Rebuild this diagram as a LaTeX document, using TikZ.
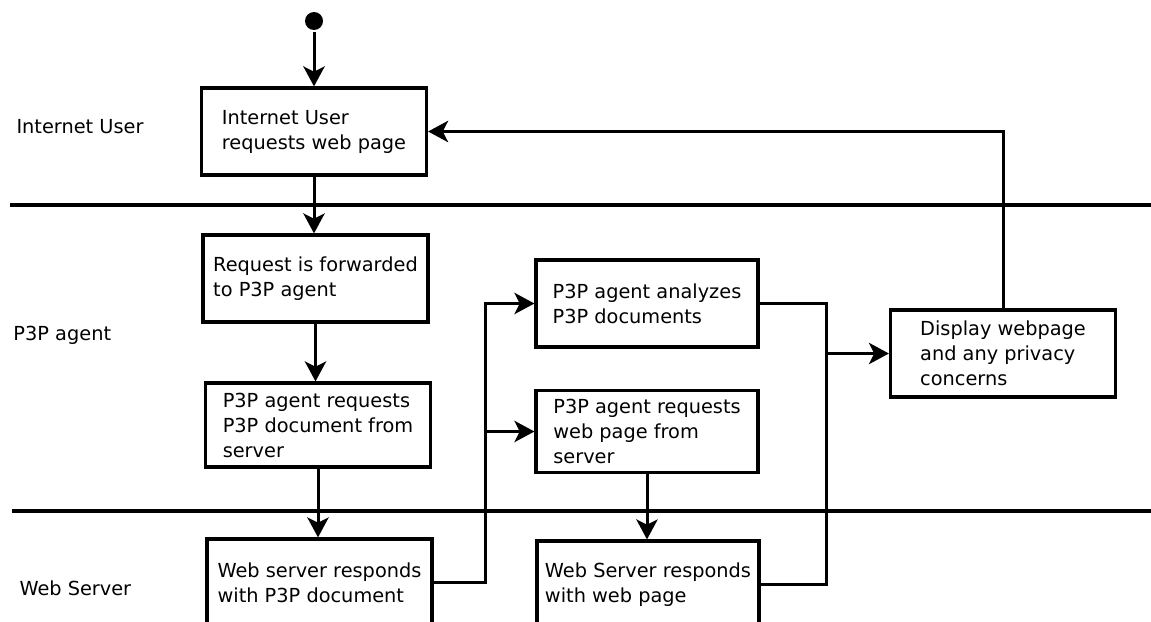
\documentclass[tikz,border=0pt]{standalone}
\usepackage{fontspec}
\setmainfont{DejaVu Sans}
\usetikzlibrary{arrows.meta}
\begin{document}
\begin{tikzpicture}[
x=0.75pt, y=-0.75pt,
dot/.style = {circle, fill=black, inner sep=0pt, minimum size=13.5pt},
stepbox/.style = {draw, line width=2.4pt, align=left, inner sep=2pt,
                  minimum width=168.75pt, minimum height=65.25pt,
                  font=\fontsize{14.5}{18.75}\selectfont},
lanelabel/.style = {anchor=base west, inner sep=0pt,
                  font=\fontsize{14.5}{18.75}\selectfont},
lane/.style = {line width=2.4pt},
flow/.style = {-{Stealth[length=15pt, width=16pt, inset=4pt]}},
    line width=2.25pt
                        ]
\useasboundingbox (0,0) rectangle (1151,621);
\clip (0,0) rectangle (1151,621);
% swim lanes
\foreach \x/\y in {10/205, 12/511}
    \draw[lane] (\x,\y) -- (1151,\y);
\foreach \x/\y/\name [count=\i] in {15/133/Internet User, 12/340/P3P agent, 18/595/Web Server}
    \node[lanelabel] (lane\i) at (\x,\y) {\name};
%
\node[dot] (start) at (314,21) {};
\node[stepbox] (user) at (314,131.5) {Internet User\\requests web page};
\node[stepbox] (fwd) at (315.5,278.5) {Request is forwarded\\to P3P agent};
\node[stepbox, minimum height=63pt] (reqdoc) at (318,425) {P3P agent requests\\P3P document from\\server};
\node[stepbox] (respdoc) at (319.5,582.5) {Web server responds\\with P3P document};
\node[stepbox, minimum width=166.5pt] (analyze) at (647,303.5) {P3P agent analyzes\\P3P documents};
\node[stepbox, minimum width=166.5pt, minimum height=62pt] (reqpage) at (647,431.5) {P3P agent requests\\web page from\\server};
\node[stepbox, minimum width=166.5pt] (resppage) at (648,584.5) {Web Server responds\\with web page};
\node[stepbox] (display) at (1003,353.5) {Display webpage\\and any privacy\\concerns};
%
\coordinate (split) at (485,431.5);
\coordinate (merge) at (826,353.5);
%
\draw[flow] (start) -- (user);
\draw[flow] (user.south) -- (user.south |- fwd.north);
\draw[flow] (fwd.south) -- (fwd.south |- reqdoc.north);
\draw[flow] (reqdoc.south) -- (reqdoc.south |- respdoc.north);
\draw[flow] (respdoc.east) -| (split) |- (analyze.west);
\draw[flow] (split) -- (reqpage.west);
\draw[flow] (reqpage.south) -- (reqpage.south |- resppage.north);
\draw (analyze.east) -| (merge) |- (resppage.east);
\draw[flow] (merge) -- (display.west);
\draw[flow] (display.north) |- (user.east);

\end{tikzpicture}
\end{document}
